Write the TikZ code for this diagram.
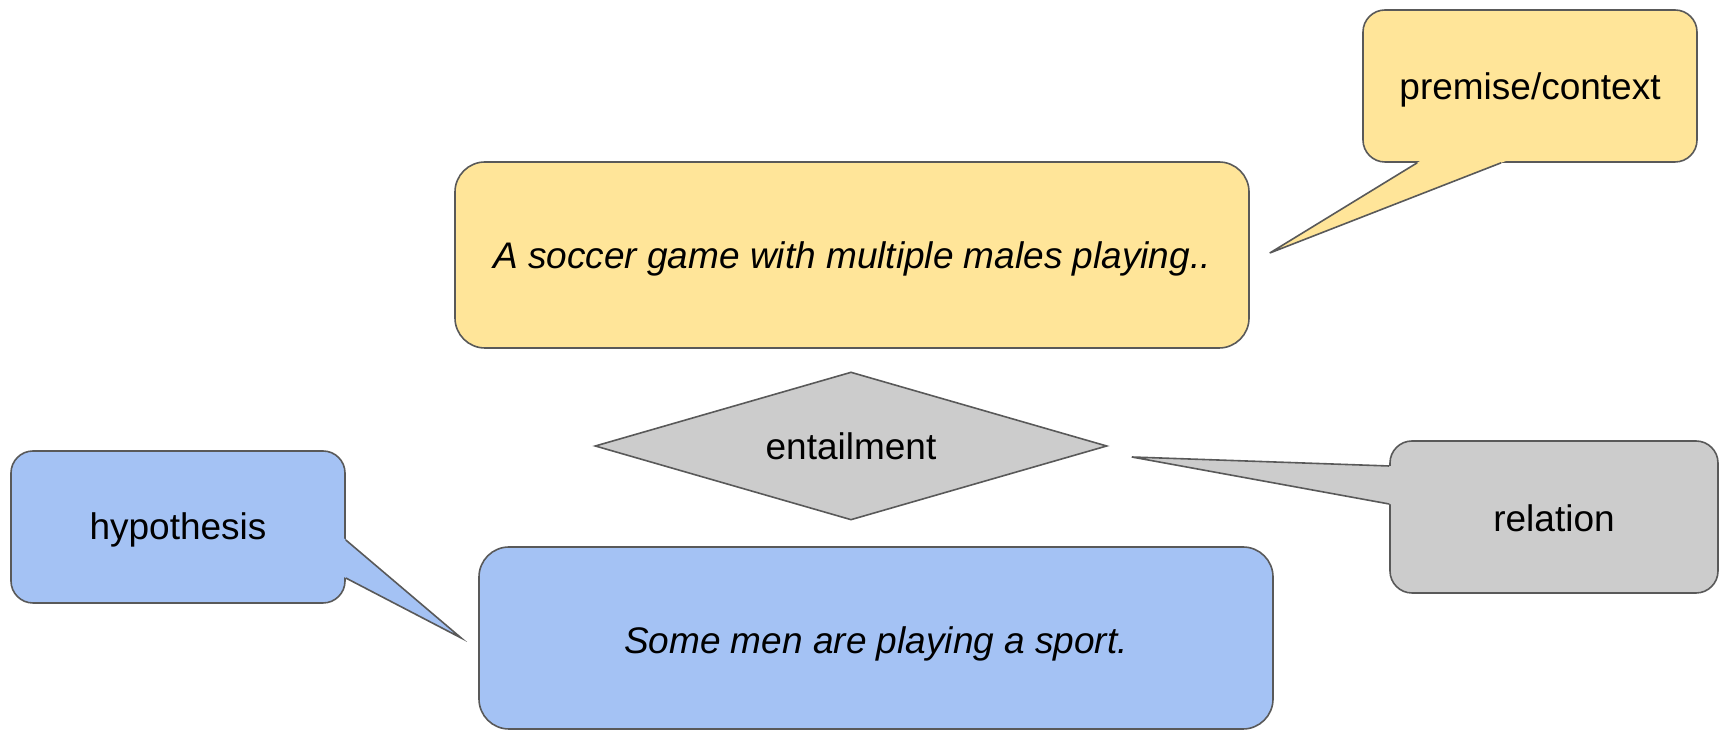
\documentclass[tikz,border=0pt]{standalone}
\usepackage{fontspec}
\setmainfont{Liberation Sans}
\usetikzlibrary{shapes.geometric,calc}
\definecolor{premfill}{HTML}{FFE599}
\definecolor{hypfill}{HTML}{A4C2F4}
\definecolor{relfill}{HTML}{CCCCCC}
\definecolor{edgegray}{HTML}{595959}
% pointer of a speech bubble: fill colour, base point, tip, base point
\newcommand\calloutpointer[4]{%
  \fill[#1] ($(#3)!1.04!(#2)$) -- (#3) -- ($(#3)!1.04!(#4)$) -- cycle;
  \draw[outline] (#2) -- (#3) -- (#4);}
\begin{document}
\begin{tikzpicture}[x=1pt,y=1pt,
  outline/.style={draw=edgegray, line width=1.6pt, line join=miter},
  txt/.style={font=\fontsize{37}{44}\selectfont, text=black, inner sep=0pt,
              text height=27pt, text depth=0pt},
  bigbox/.style={outline, txt, rectangle, rounded corners=30pt, minimum width=794pt},
  callbox/.style={outline, txt, rectangle, rounded corners=22pt, minimum width=334pt, minimum height=152pt},
  relshape/.style={outline, txt, diamond, fill=relfill, minimum width=512pt, minimum height=148pt, aspect=3.46}
]
\useasboundingbox (0,0) rectangle (1719,730);

% main sentences and the relation between them
\node[bigbox, fill=premfill, minimum height=186pt] (soccer) at (852,475) {\itshape A soccer game with multiple males playing..};
\node[bigbox, fill=hypfill, minimum height=182pt, text height=32pt] (sport) at (876,92) {\itshape Some men are playing a sport.};
\node[relshape, text height=28pt] (rel) at (851,284) {entailment};

% speech-bubble labels
\node[callbox, fill=premfill, text height=28pt] (prem) at (1530,644) {premise/context};
\node[callbox, fill=relfill, minimum width=328pt, text height=29pt] (relnote) at (1554,213) {relation};
\node[callbox, fill=hypfill, text height=26pt] (hyp) at (178,203) {hypothesis};

% bubble pointers
\coordinate (premA) at ([xshift=55pt]prem.south west);
\coordinate (premB) at ([xshift=139pt]prem.south west);
\coordinate (premTip) at ([shift={(20pt,2pt)}]soccer.east);
\calloutpointer{premfill}{premA}{premTip}{premB}

\coordinate (relA) at ([yshift=51pt]relnote.west);
\coordinate (relB) at ([yshift=13pt]relnote.west);
\coordinate (relTip) at ([shift={(24pt,-11pt)}]rel.east);
\calloutpointer{relfill}{relA}{relTip}{relB}

\coordinate (hypA) at ([yshift=-13pt]hyp.east);
\coordinate (hypB) at ([yshift=-51pt]hyp.east);
\coordinate (hypTip) at ([xshift=-17pt]sport.west);
\calloutpointer{hypfill}{hypA}{hypTip}{hypB}
\end{tikzpicture}
\end{document}
